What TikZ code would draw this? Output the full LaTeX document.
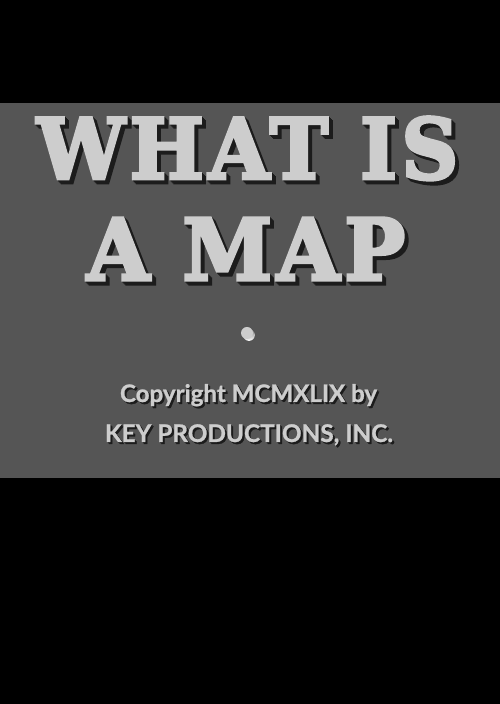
\documentclass[tikz,border=0pt]{standalone}
\usepackage{graphicx}
\usepackage{fontspec}
\newfontfamily\titlefont{DejaVu Serif}[LetterSpace=6.0,BoldFeatures={FakeBold=4}]
\newfontfamily\creditfont{Lato}[BoldFeatures={FakeBold=1}]
\definecolor{card}{HTML}{555555}
\definecolor{ink}{HTML}{CDCDCD}
\definecolor{shade}{HTML}{1C1C1C}
\newcommand{\titletext}[3]{\resizebox{#1pt}{#2pt}{\titlefont\bfseries #3}}
\newcommand{\credittext}[2]{\resizebox{#1pt}{!}{\creditfont\bfseries #2}}
\begin{document}
\begin{tikzpicture}[x=1pt,y=1pt,
    word/.style={inner sep=0pt,outer sep=0pt,anchor=south west,text=ink},
    wordshade/.style={word,text=shade},
    line/.style={inner sep=0pt,outer sep=0pt,anchor=base west,text=ink},
    lineshade/.style={line,text=shade}]
        \fill[black] (0,0) rectangle (500,704);
        \fill[card] (0,226) rectangle (500,601);
        % shadows
        \foreach \d in {1,2,3,4} {
            \node[wordshade] (what-\d) at (37+\d,524-\d) {\titletext{421}{62}{WHAT IS}};
            \node[wordshade] (map-\d) at (87+\d,424-\d) {\titletext{318}{62}{A MAP}};
        }
        \fill[shade] (249,369) circle (6);
        \foreach \d in {1,2} {
            \node[lineshade] (copy-\d) at (120+\d,302-\d) {\credittext{257}{Copyright MCMXLIX by}};
            \node[lineshade] (key-\d) at (105+\d,262-\d) {\credittext{288}{KEY PRODUCTIONS, INC.}};
        }
        % lettering
        \node[word] (what) at (37,524) {\titletext{421}{62}{WHAT IS}};
        \node[word] (map) at (87,424) {\titletext{318}{62}{A MAP}};
        \node[circle,fill=ink,minimum size=12pt,inner sep=0pt] (dot) at (247,371) {};
        \node[line] (copy) at (120,302) {\credittext{257}{Copyright MCMXLIX by}};
        \node[line] (key) at (105,262) {\credittext{288}{KEY PRODUCTIONS, INC.}};
    \end{tikzpicture}
\end{document}
